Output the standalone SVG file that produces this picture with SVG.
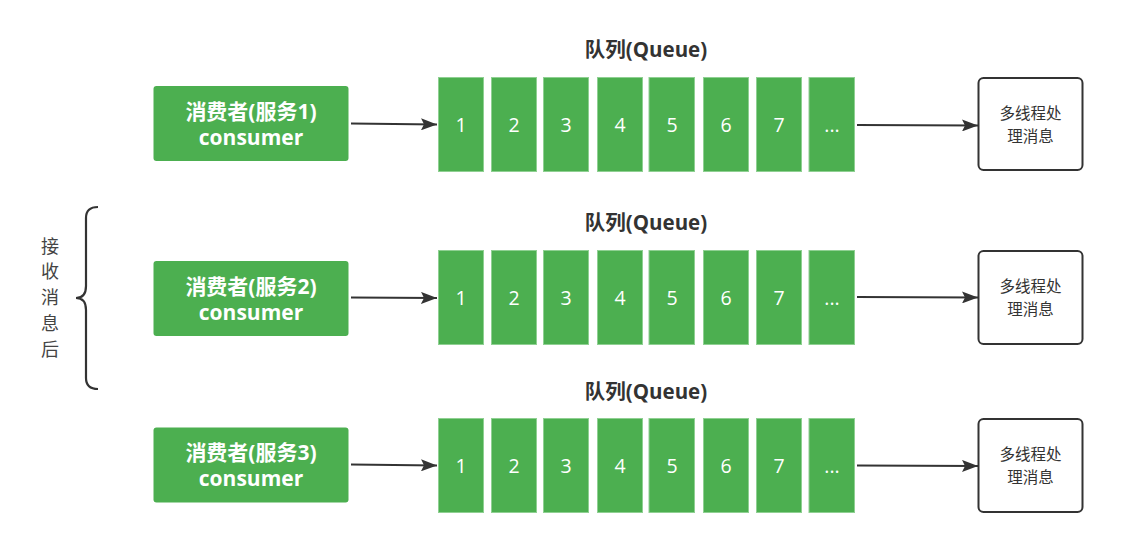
<svg xmlns="http://www.w3.org/2000/svg" width="1122" height="550" viewBox="0 0 1122 550">
<defs>
<style>
.cons{fill:#4caf50;}
.ct{fill:#fff;font-family:"Open Sans","Noto Sans CJK SC",sans-serif;font-weight:bold;font-size:21px;text-anchor:middle;}
.cell{fill:#4caf50;stroke:#8fd092;stroke-width:1;}
.num{fill:#fff;font-family:"Open Sans","Noto Sans CJK SC",sans-serif;font-size:19.5px;text-anchor:middle;}
.ql{fill:#333;font-family:"Open Sans","Noto Sans CJK SC",sans-serif;font-weight:bold;font-size:20.5px;text-anchor:middle;}
.proc{fill:#fff;stroke:#333;stroke-width:2;}
.pt{fill:#333;font-family:"Noto Sans CJK SC",sans-serif;font-size:15.5px;text-anchor:middle;}
.conn{stroke:#333;stroke-width:2.2;fill:none;marker-end:url(#ah);}
.side{fill:#444;font-family:"Noto Sans CJK SC",sans-serif;font-size:18px;text-anchor:middle;}
</style>
<marker id="ah" viewBox="0 0 16 12" refX="16" refY="6" markerWidth="16" markerHeight="12" markerUnits="userSpaceOnUse" orient="auto">
<path d="M0,0 L16,6 L0,12 L3,6 Z" fill="#333"/>
</marker>
<g id="cells">
<rect class="cell" x="438.5" y="0" width="45" height="94"/>
<rect class="cell" x="491.5" y="0" width="45" height="94"/>
<rect class="cell" x="543.5" y="0" width="45" height="94"/>
<rect class="cell" x="597.5" y="0" width="45" height="94"/>
<rect class="cell" x="649" y="0" width="45.5" height="94"/>
<rect class="cell" x="703.5" y="0" width="45" height="94"/>
<rect class="cell" x="756.5" y="0" width="45" height="94"/>
<rect class="cell" x="809" y="0" width="45.5" height="94"/>
<text class="num" x="461" y="54.5">1</text>
<text class="num" x="514" y="54.5">2</text>
<text class="num" x="566" y="54.5">3</text>
<text class="num" x="620" y="54.5">4</text>
<text class="num" x="672" y="54.5">5</text>
<text class="num" x="726" y="54.5">6</text>
<text class="num" x="779" y="54.5">7</text>
<text class="num" x="832" y="54.5">...</text>
</g>
</defs>
<rect width="1122" height="550" fill="#fff"/>

<g id="connectors">
<path class="conn" d="M351,123.5 L437,124.5"/>
<path class="conn" d="M857,125 L978,125.5"/>
<path class="conn" d="M351,297.5 L437,298"/>
<path class="conn" d="M857,297 L978,297.5"/>
<path class="conn" d="M351,464.5 L437,465.5"/>
<path class="conn" d="M857,465.5 L978,466"/>
</g>

<g id="brace">
<path d="M98,207 Q86,207 86,218 L86,286 Q86,298 76,298 Q86,298 86,310 L86,378 Q86,389 98,389" fill="none" stroke="#333" stroke-width="2.2"/>
<text class="side" x="50" y="253">接</text>
<text class="side" x="50" y="278">收</text>
<text class="side" x="50" y="304">消</text>
<text class="side" x="50" y="330">息</text>
<text class="side" x="50" y="356">后</text>
</g>

<g id="row1">
<g id="consumer1">
<rect class="cons" x="153.5" y="86" width="195" height="75" rx="3"/>
<text class="ct" x="251" y="119">消费者(服务1)</text>
<text class="ct" x="251" y="145">consumer</text>
</g>
<g id="queue1">
<text class="ql" x="646" y="57">队列(Queue)</text>
<use href="#cells" y="77.5"/>
</g>
<g id="proc1">
<rect class="proc" x="978.5" y="78" width="104" height="92" rx="5"/>
<text class="pt" x="1030.5" y="119">多线程处</text>
<text class="pt" x="1030.5" y="142">理消息</text>
</g>
</g>

<g id="row2">
<g id="consumer2">
<rect class="cons" x="153.5" y="261" width="195" height="75" rx="3"/>
<text class="ct" x="251" y="294">消费者(服务2)</text>
<text class="ct" x="251" y="320">consumer</text>
</g>
<g id="queue2">
<text class="ql" x="646" y="230">队列(Queue)</text>
<use href="#cells" y="250.5"/>
</g>
<g id="proc2">
<rect class="proc" x="978.5" y="251" width="104" height="93" rx="5"/>
<text class="pt" x="1030.5" y="292">多线程处</text>
<text class="pt" x="1030.5" y="315">理消息</text>
</g>
</g>

<g id="row3">
<g id="consumer3">
<rect class="cons" x="153.5" y="427.5" width="195" height="75" rx="3"/>
<text class="ct" x="251" y="460">消费者(服务3)</text>
<text class="ct" x="251" y="486">consumer</text>
</g>
<g id="queue3">
<text class="ql" x="646" y="399">队列(Queue)</text>
<use href="#cells" y="418.5"/>
</g>
<g id="proc3">
<rect class="proc" x="978.5" y="419" width="104" height="93" rx="5"/>
<text class="pt" x="1030.5" y="460">多线程处</text>
<text class="pt" x="1030.5" y="483">理消息</text>
</g>
</g>
</svg>
